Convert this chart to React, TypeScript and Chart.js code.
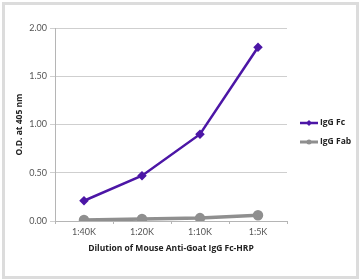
import React, { useEffect, useRef } from "react";
import { Chart, registerables } from "chart.js";

Chart.register(...registerables);

const categories = ["1:40K", "1:20K", "1:10K", "1:5K"];
const iggFc = [0.21, 0.47, 0.9, 1.8];
const iggFab = [0.01, 0.02, 0.03, 0.06];
const seriesNames = ["IgG Fc", "IgG Fab"];
const yTitle = "O.D. at 405 nm";
const xTitle = "Dilution of Mouse Anti-Goat IgG Fc-HRP";

const FONT = "Lato, 'Open Sans', sans-serif";
const BOLD_FONT = "'Open Sans', Lato, sans-serif";

export default function App() {
  const ref = useRef<HTMLCanvasElement | null>(null);
  useEffect(() => {
    document.body.style.margin = "0";
    const canvas = ref.current!;
    const borderPlugin = {
      id: "frame",
      beforeDraw(chart: any) {
        const ctx = chart.ctx;
        ctx.save();
        ctx.fillStyle = "#ffffff";
        ctx.fillRect(0, 0, chart.width, chart.height);
        ctx.strokeStyle = "#dcdcdc";
        ctx.lineWidth = 3;
        ctx.strokeRect(3.5, 3.5, chart.width - 5, chart.height - 6);
        ctx.restore();
      },
    };
    const legendPlugin = {
      id: "sideLegend",
      afterDraw(chart: any) {
        const ctx = chart.ctx;
        const area = chart.chartArea;
        const x0 = area.right + 13;
        const rows = [area.top + 95, area.top + 114];
        ctx.save();
        chart.data.datasets.forEach((ds: any, i: number) => {
          const y = rows[i];
          ctx.strokeStyle = ds.borderColor;
          ctx.lineWidth = i === 0 ? 2.5 : 3;
          ctx.beginPath();
          ctx.moveTo(x0, y);
          ctx.lineTo(x0 + 18, y);
          ctx.stroke();
          ctx.fillStyle = ds.borderColor;
          ctx.beginPath();
          if (i === 0) {
            ctx.moveTo(x0 + 9, y - 3);
            ctx.lineTo(x0 + 12, y);
            ctx.lineTo(x0 + 9, y + 3);
            ctx.lineTo(x0 + 6, y);
            ctx.closePath();
          } else {
            ctx.arc(x0 + 9, y, 2.5, 0, Math.PI * 2);
          }
          ctx.fill();
          ctx.fillStyle = "#222222";
          ctx.font = `bold 8.5px ${BOLD_FONT}`;
          ctx.textBaseline = "middle";
          ctx.textAlign = "left";
          ctx.fillText(ds.label, x0 + 20, y);
        });
        ctx.restore();
      },
    };
    const chart = new Chart(canvas, {
      type: "line",
      data: {
        labels: categories,
        datasets: [
          {
            label: seriesNames[0],
            data: iggFc,
            borderColor: "#4c16a6",
            backgroundColor: "#4c16a6",
            borderWidth: 2.5,
            pointStyle: "rectRot",
            pointRadius: 3,
            tension: 0,
          },
          {
            label: seriesNames[1],
            data: iggFab,
            borderColor: "#8f8f8f",
            backgroundColor: "#8f8f8f",
            borderWidth: 3.5,
            pointStyle: "circle",
            pointRadius: 3.5,
            tension: 0,
          },
        ],
      },
      options: {
        animation: false,
        responsive: false,
        maintainAspectRatio: false,
        layout: { padding: { left: 10, right: 72, top: 28, bottom: 26 } },
        plugins: {
          legend: { display: false },
          tooltip: { enabled: false },
        },
        scales: {
          x: {
            type: "category",
            offset: true,
            grid: {
              offset: true,
              drawOnChartArea: false,
              drawTicks: true,
              tickLength: 3,
              color: "#b5b5b5",
            },
            border: { color: "#b5b5b5", width: 1 },
            ticks: {
              color: "#555555",
              font: { family: FONT, size: 9 },
              padding: 3,
            },
            title: {
              display: true,
              text: xTitle,
              color: "#222222",
              font: { family: BOLD_FONT, size: 8.5, weight: "bold" },
              padding: { top: 3, bottom: 0 },
            },
          },
          y: {
            min: 0,
            max: 2,
            afterFit(scale: any) {
              scale.width = 45;
            },
            grid: {
              color: "#cfcfcf",
              drawTicks: true,
              tickLength: 5,
            },
            border: { color: "#b5b5b5", width: 1 },
            ticks: {
              stepSize: 0.5,
              color: "#555555",
              font: { family: FONT, size: 9 },
              padding: 3,
              callback: (v: any) => Number(v).toFixed(2),
            },
            title: {
              display: true,
              text: yTitle,
              color: "#222222",
              font: { family: BOLD_FONT, size: 8.5, weight: "bold" },
              padding: { top: 4, bottom: 0 },
            },
          },
        },
      },
      plugins: [borderPlugin, legendPlugin],
    });
    return () => chart.destroy();
  }, []);
  return (
    <div style={{ width: 359, height: 280 }}>
      <canvas ref={ref} width={359} height={280} style={{ display: "block" }} />
    </div>
  );
}
